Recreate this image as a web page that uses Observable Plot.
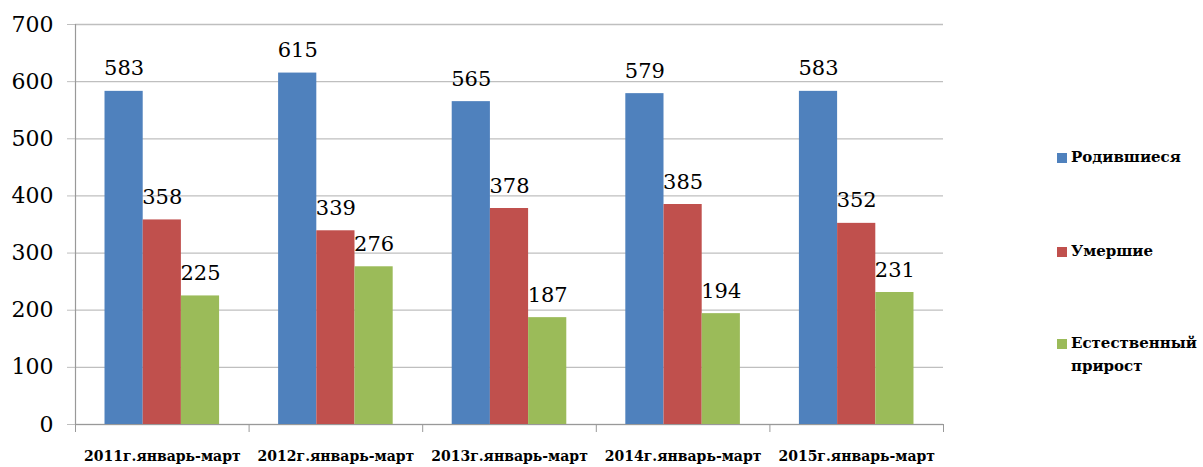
<!DOCTYPE html>
<html>
<head>
<meta charset="utf-8">
<script src="https://cdn.jsdelivr.net/npm/d3@7"></script>
<script src="https://cdn.jsdelivr.net/npm/@observablehq/plot@0.6"></script>
<style>
  html, body { margin: 0; padding: 0; background: #fff; }
  #wrap { position: relative; width: 1203px; height: 467px; overflow: hidden; }
  #legend { position: absolute; left: 1057px; top: 0; font-family: "DejaVu Serif", serif; font-weight: bold; font-size: 15px; color: #000; }
  .item { position: absolute; left: 0; white-space: nowrap; display: flex; align-items: flex-start; line-height: 23px; }
  .sw { width: 10px; height: 10px; margin-top: 7px; margin-right: 4px; flex: none; }
</style>
</head>
<body>
<div id="wrap"><div id="chart"></div><div id="legend"></div></div>
<script>
const categories = ["2011г.январь-март", "2012г.январь-март", "2013г.январь-март", "2014г.январь-март", "2015г.январь-март"];
const series = ["Родившиеся", "Умершие", "Естественный прирост"];
const born = [583, 615, 565, 579, 583];
const died = [358, 339, 378, 385, 352];
const growth = [225, 276, 187, 194, 231];
const yTicks = [0, 100, 200, 300, 400, 500, 600, 700];
const colors = ["#4F81BD", "#C0504D", "#9BBB59"];

const values = [born, died, growth];
const data = categories.flatMap((c, i) => series.map((s, j) => ({c, i, j, s, v: values[j][i]})));

const outer = 0.17, bw = 0.22;
const bx1 = d => d.i + outer + bw * d.j;
const bx2 = d => d.i + outer + bw * (d.j + 1);
const bxc = d => d.i + outer + bw * (d.j + 0.5);

const chart = Plot.plot({
  width: 1203,
  height: 467,
  marginLeft: 75,
  marginRight: 260,
  marginTop: 24,
  marginBottom: 43,
  style: {fontFamily: "'DejaVu Serif', serif", background: "#fff", color: "#000"},
  x: {domain: [0, categories.length]},
  y: {domain: [0, 700]},
  color: {domain: series, range: colors},
  marks: [
    Plot.gridY(yTicks, {stroke: "#bfbfbf", strokeOpacity: 1, strokeWidth: 1.3}),
    Plot.axisY({ticks: yTicks, tickSize: 8, tickPadding: 14, fontSize: 22, stroke: "#bfbfbf", fill: "#000", label: null}),
    Plot.rectY(data, {x1: bx1, x2: bx2, y: "v", fill: "s"}),
    Plot.ruleX([0], {stroke: "#999", strokeWidth: 1.2}),
    Plot.ruleY([0], {stroke: "#999", strokeWidth: 1.2}),
    Plot.axisX({ticks: d3.range(categories.length + 1), tickSize: 8, tickFormat: () => "", stroke: "#999", label: null}),
    Plot.axisX({ticks: categories.map((c, i) => i + 0.5), tickSize: 0, tickPadding: 27, tickFormat: t => categories[Math.floor(t)], fontSize: 14, fontWeight: "bold", fill: "#000", label: null}),
    Plot.text(data, {x: bxc, y: "v", text: d => String(d.v), dy: -16, lineAnchor: "bottom", fontSize: 21, fill: "#000"})
  ]
});
document.getElementById("chart").appendChild(chart);

const legendTops = [146, 240, 332];
const legend = document.getElementById("legend");
series.forEach((s, j) => {
  const it = document.createElement("div");
  it.className = "item";
  it.style.top = legendTops[j] + "px";
  const sw = document.createElement("div");
  sw.className = "sw";
  sw.style.background = colors[j];
  const tx = document.createElement("div");
  tx.innerHTML = s.replace(" ", "<br>");
  it.appendChild(sw);
  it.appendChild(tx);
  legend.appendChild(it);
});
</script>
</body>
</html>
